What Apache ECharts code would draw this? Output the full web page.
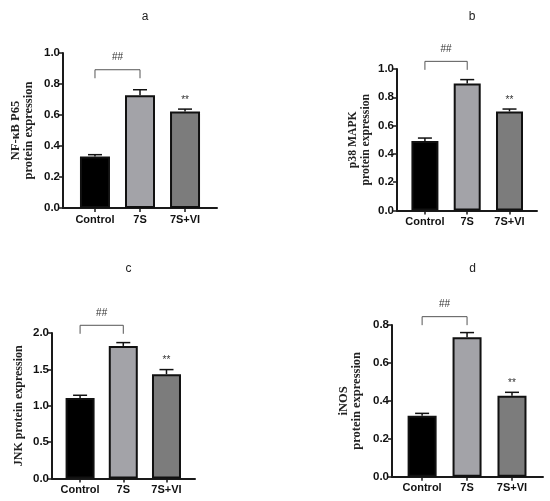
<!DOCTYPE html>
<html>
<head>
<meta charset="utf-8">
<script src="https://cdn.jsdelivr.net/npm/echarts@6/dist/echarts.min.js"></script>
<style>
  html, body { margin: 0; padding: 0; background: #fff; }
  #chart { width: 550px; height: 501px; }
</style>
</head>
<body>
<div id="chart"></div>
<script>
// groups on the x axis
const groups = ['Control', '7S', '7S+VI'];

// mean and error (upper SEM) per panel
const nfkbMean = [0.333, 0.727, 0.623];
const nfkbErr = [0.011, 0.036, 0.015];
const p38Mean = [0.491, 0.897, 0.700];
const p38Err = [0.021, 0.028, 0.017];
const jnkMean = [1.107, 1.822, 1.433];
const jnkErr = [0.037, 0.046, 0.064];
const inosMean = [0.322, 0.735, 0.427];
const inosErr = [0.012, 0.025, 0.018];

const panelTitles = ['a', 'b', 'c', 'd'];
const yNames = ['NF-\u03baB P65\nprotein expression', 'p38 MAPK\nprotein expression', 'JNK protein expression', 'iNOS\nprotein expression'];
const yMax = [1.0, 1.0, 2.0, 0.8];
const yStep = [0.2, 0.2, 0.5, 0.2];
const bracketTop = [0.892, 1.054, 2.106, 0.844];  // height of the ## bracket
const compareMark = '##';
const treatMark = '**';

const means = [nfkbMean, p38Mean, jnkMean, inosMean];
const errs = [nfkbErr, p38Err, jnkErr, inosErr];

// layout of the four panels (px)
const layout = [
    { left: 63, top: 53, width: 154, height: 155, xMin: -0.71, xMax: 2.71, barW: 30, nameGap: 28, nameSize: 12.5 },
    { left: 397, top: 69, width: 140, height: 141.5, xMin: -0.66, xMax: 2.65, barW: 27, nameGap: 25, nameSize: 11.7 },
    { left: 52, top: 333, width: 143, height: 145.5, xMin: -0.65, xMax: 2.66, barW: 29, nameGap: 27, nameSize: 12 },
    { left: 392, top: 325, width: 151, height: 151.7, xMin: -0.67, xMax: 2.69, barW: 29, nameGap: 29, nameSize: 12.5 }
];
const barColors = ['#000000', '#a3a3a8', '#7c7c7c'];
const axisColor = '#1a1a1a';

const chart = echarts.init(document.getElementById('chart'));

const grid = [], xAxis = [], yAxis = [], series = [], title = [];

layout.forEach(function (L, k) {
    grid.push({ left: L.left, top: L.top, width: L.width, height: L.height });
    title.push({
        text: panelTitles[k],
        left: L.left + L.width / 2,
        top: k < 2 ? 6 : 258,
        textAlign: 'center',
        textStyle: { fontFamily: 'Liberation Sans', fontWeight: 'normal', fontSize: 12, color: '#222' }
    });
    xAxis.push({
        gridIndex: k,
        type: 'value',
        min: L.xMin,
        max: L.xMax,
        splitLine: { show: false },
        axisLine: { show: true, onZero: false, lineStyle: { color: axisColor, width: 2 } },
        axisTick: { show: true, customValues: [0, 1, 2], length: 4, lineStyle: { color: axisColor, width: 1.5 } },
        axisLabel: {
            customValues: [0, 1, 2],
            formatter: function (v) { return groups[Math.round(v)]; },
            fontFamily: 'Liberation Sans', fontWeight: 'bold', fontSize: 11, color: '#111', margin: 6
        }
    });
    yAxis.push({
        gridIndex: k,
        type: 'value',
        min: 0,
        max: yMax[k],
        interval: yStep[k],
        name: yNames[k],
        nameLocation: 'middle',
        nameGap: L.nameGap,
        nameTextStyle: { fontFamily: 'Liberation Serif', fontWeight: 'bold', fontSize: L.nameSize, lineHeight: 13, color: '#222' },
        splitLine: { show: false },
        axisLine: { show: true, onZero: false, lineStyle: { color: axisColor, width: 2 } },
        axisTick: { show: true, length: 4, lineStyle: { color: axisColor, width: 1.5 } },
        axisLabel: {
            formatter: function (v) { return v.toFixed(1); },
            fontFamily: 'Liberation Sans', fontWeight: 'bold', fontSize: 11.5, color: '#111', margin: 3
        }
    });

    series.push({
        type: 'bar',
        xAxisIndex: k,
        yAxisIndex: k,
        barWidth: L.barW,
        data: groups.map(function (g, i) {
            return { value: [i, means[k][i]], itemStyle: { color: barColors[i] } };
        }),
        itemStyle: { borderColor: '#111', borderWidth: 2 },
        z: 2
    });

    // error bars (upper whisker) plus ** over the treated group
    series.push({
        type: 'custom',
        xAxisIndex: k,
        yAxisIndex: k,
        data: groups.map(function (g, i) { return [i, means[k][i], means[k][i] + errs[k][i]]; }),
        renderItem: function (params, api) {
            const base = api.coord([api.value(0), api.value(1)]);
            const top = api.coord([api.value(0), api.value(2)]);
            const children = [
                { type: 'line', shape: { x1: base[0], y1: base[1], x2: top[0], y2: top[1] }, style: { stroke: '#111', lineWidth: 1.5 } },
                { type: 'line', shape: { x1: top[0] - 7, y1: top[1], x2: top[0] + 7, y2: top[1] }, style: { stroke: '#111', lineWidth: 1.5 } }
            ];
            if (params.dataIndex === 2) {
                children.push({
                    type: 'text',
                    style: { text: treatMark, x: top[0], y: top[1] - 9, align: 'center', verticalAlign: 'middle', fontFamily: 'Liberation Sans', fontSize: 10, fill: '#333' }
                });
            }
            return { type: 'group', children: children };
        },
        z: 3
    });

    // ## bracket between Control and 7S
    series.push({
        type: 'custom',
        xAxisIndex: k,
        yAxisIndex: k,
        clip: false,
        data: [[0, 1, bracketTop[k]]],
        renderItem: function (params, api) {
            const a = api.coord([api.value(0), api.value(2)]);
            const b = api.coord([api.value(1), api.value(2)]);
            return {
                type: 'group',
                children: [
                    { type: 'polyline', shape: { points: [[a[0], a[1] + 8.5], [a[0], a[1]], [b[0], b[1]], [b[0], b[1] + 8.5]] }, style: { stroke: '#555', lineWidth: 1, fill: null } },
                    { type: 'text', style: { text: compareMark, x: (a[0] + b[0]) / 2, y: a[1] - 12, align: 'center', verticalAlign: 'middle', fontFamily: 'Liberation Sans', fontSize: 10, fill: '#333' } }
                ]
            };
        },
        z: 3
    });
});

chart.setOption({
    animation: false,
    backgroundColor: '#fff',
    title: title,
    grid: grid,
    xAxis: xAxis,
    yAxis: yAxis,
    series: series
});
</script>
</body>
</html>
